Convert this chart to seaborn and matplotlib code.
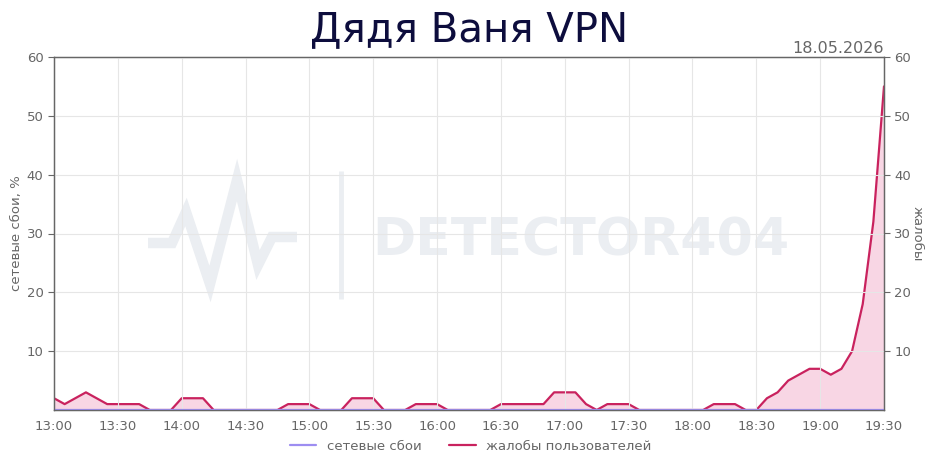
import numpy as np
import pandas as pd
import matplotlib
matplotlib.use("Agg")
import matplotlib.pyplot as plt
import matplotlib.dates as mdates
from matplotlib.lines import Line2D
import seaborn as sns

TITLE = "Дядя Ваня VPN"
DATE_LABEL = "18.05.2026"
START = "2026-05-18 13:00"
STEP = "5min"

# жалобы пользователей, every 5 minutes from 13:00 to 19:30
complaints = [
    2, 1, 2, 3, 2, 1, 1, 1, 1, 0, 0, 0,      # 13:00 - 13:55
    2, 2, 2, 0, 0, 0, 0, 0, 0, 0, 1, 1,      # 14:00 - 14:55
    1, 0, 0, 0, 2, 2, 2, 0, 0, 0, 1, 1,      # 15:00 - 15:55
    1, 0, 0, 0, 0, 0, 1, 1, 1, 1, 1, 3,      # 16:00 - 16:55
    3, 3, 1, 0, 1, 1, 1, 0, 0, 0, 0, 0,      # 17:00 - 17:55
    0, 0, 1, 1, 1, 0, 0, 2, 3, 5, 6, 7,      # 18:00 - 18:55
    7, 6, 7, 10, 18, 32, 55,                 # 19:00 - 19:30
]
# сетевые сбои, %
outages = [0] * len(complaints)

times = pd.date_range(START, periods=len(complaints), freq=STEP)
df = pd.DataFrame({"time": times, "outages": outages, "complaints": complaints})

C_OUT = "#9d8df1"
C_COMP = "#c9225e"
C_FILL = "#f7cfe0"
GRAY = "#666666"
WM = "#ebeef2"

sns.set_style("white")
plt.rcParams["font.family"] = ["DejaVu Sans"]

fig = plt.figure(figsize=(9.38, 4.68), dpi=100)
ax = fig.add_axes([54 / 938, 58 / 468, 830 / 938, 353 / 468])
ax2 = ax.twinx()

# watermark (decoration, axes fraction coords)
def px(x, y):
    return (x - 54) / 830, (410 - y) / 353

zig = [(148, 243), (172, 243), (186, 212), (210, 284), (237, 180),
       (258, 265), (272, 237), (297, 237)]
zx, zy = zip(*[px(a, b) for a, b in zig])
ax.plot(zx, zy, transform=ax.transAxes, color=WM, lw=7.5,
        solid_joinstyle="miter", solid_capstyle="butt", zorder=0)
vx0, vy0 = px(341, 171)
vx1, vy1 = px(341, 299)
ax.plot([vx0, vx1], [vy0, vy1], transform=ax.transAxes, color=WM,
        lw=3.5, solid_capstyle="butt", zorder=0)
tx, ty = px(581, 241)
ax.text(tx, ty, "DETECTOR404", transform=ax.transAxes, ha="center",
        va="center", fontsize=37.5, fontweight="bold", color=WM,
        zorder=0)

ax.fill_between(df["time"], df["outages"], color=C_OUT, alpha=0.25, lw=0)
sns.lineplot(data=df, x="time", y="outages", ax=ax, color=C_OUT, lw=1.6)
ax2.fill_between(df["time"], df["complaints"], color=C_FILL, alpha=0.85, lw=0)
sns.lineplot(data=df, x="time", y="complaints", ax=ax2, color=C_COMP, lw=1.6)

for a in (ax, ax2):
    a.set_ylim(0, 60)
    a.set_yticks([10, 20, 30, 40, 50, 60])
    a.set_xlim(times[0], times[-1])
    a.tick_params(colors=GRAY, labelcolor=GRAY, labelsize=9.5, length=4,
                  width=0.8)
    for s in a.spines.values():
        s.set_color(GRAY)
        s.set_linewidth(0.9)

ax.xaxis.set_major_locator(mdates.MinuteLocator(byminute=[0, 30]))
ax.xaxis.set_major_formatter(mdates.DateFormatter("%H:%M"))
ax.grid(True, color="#e6e6e6", lw=0.8)
ax.set_axisbelow(True)
ax.set_zorder(ax2.get_zorder() + 1)
ax.patch.set_visible(False)
ax2.patch.set_visible(True)
ax2.patch.set_facecolor("white")

ax.set_xlabel("")
ax.set_ylabel("сетевые сбои, %", color=GRAY, fontsize=9.5, labelpad=3)
ax2.set_ylabel("жалобы", color=GRAY, fontsize=9.5, rotation=270,
               labelpad=9)

fig.text(0.5, 0.935, TITLE, ha="center", va="center", fontsize=29,
         color="#0d0d3d")
ax.text(1.0, 1.003, DATE_LABEL, transform=ax.transAxes, ha="right",
        va="bottom", fontsize=11.5, color=GRAY)

handles = [Line2D([], [], color=C_OUT, lw=1.6),
           Line2D([], [], color=C_COMP, lw=1.6)]
fig.legend(handles, ["сетевые сбои", "жалобы пользователей"], loc="center",
           bbox_to_anchor=(0.502, 0.047), ncol=2, frameon=False, fontsize=9.5,
           labelcolor=GRAY, handlelength=2, columnspacing=2.1)

fig.savefig("out.png", dpi=100)
